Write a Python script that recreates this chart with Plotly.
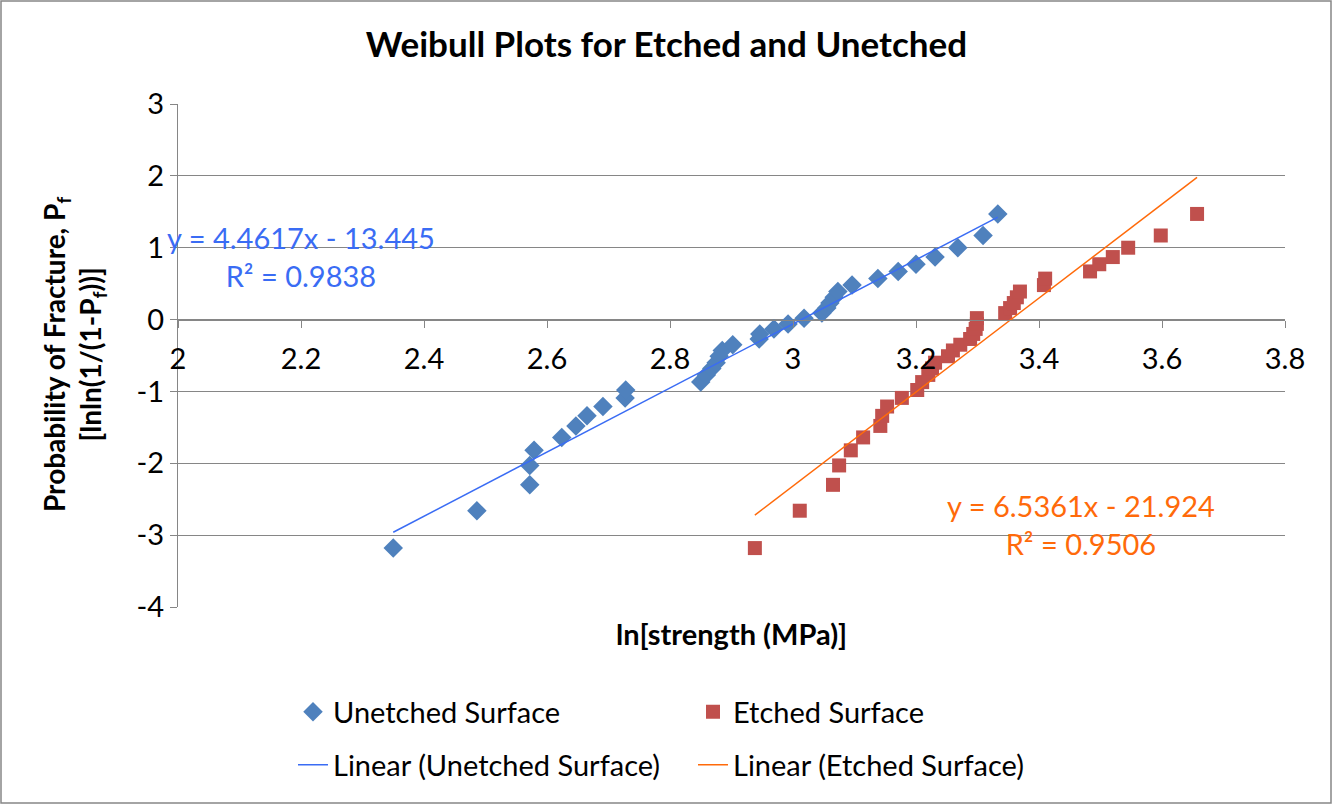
import numpy as np
import plotly.graph_objects as go

# ---- data ----
y_vals = [-3.18, -2.66, -2.30, -2.03, -1.82, -1.64, -1.48, -1.34, -1.21, -1.09,
          -0.98, -0.87, -0.77, -0.68, -0.60, -0.51, -0.43, -0.35, -0.27, -0.20,
          -0.13, -0.06, 0.02, 0.09, 0.16, 0.23, 0.31, 0.39, 0.48, 0.57,
          0.67, 0.77, 0.87, 1.00, 1.17, 1.47]

x_unetched = [2.350, 2.486, 2.572, 2.572, 2.579, 2.624, 2.647, 2.665, 2.691, 2.727,
              2.728, 2.850, 2.859, 2.868, 2.875, 2.880, 2.885, 2.902, 2.945, 2.946,
              2.969, 2.992, 3.018, 3.047, 3.055, 3.060, 3.067, 3.073, 3.096, 3.138,
              3.171, 3.200, 3.231, 3.268, 3.309, 3.333]

x_etched = [2.938, 3.011, 3.065, 3.075, 3.094, 3.114, 3.142, 3.145, 3.153, 3.177,
            3.202, 3.210, 3.220, 3.226, 3.231, 3.252, 3.260, 3.272, 3.288, 3.293,
            3.297, 3.299, 3.299, 3.345, 3.353, 3.359, 3.364, 3.369, 3.408, 3.410,
            3.483, 3.498, 3.520, 3.545, 3.598, 3.657]

fit_unetched = [4.4617, -13.445]
fit_etched = [6.5361, -21.924]
r2_unetched = 0.9838
r2_etched = 0.9506

x_ticks = [2, 2.2, 2.4, 2.6, 2.8, 3, 3.2, 3.4, 3.6, 3.8]
x_ticklabels = ["2", "2.2", "2.4", "2.6", "2.8", "3", "3.2", "3.4", "3.6", "3.8"]
y_ticks = [-4, -3, -2, -1, 0, 1, 2, 3]
y_ticklabels = ["-4", "-3", "-2", "-1", "0", "1", "2", "3"]

FONT = "Lato"
FS = 29
BLUE_M = "#4F81BD"
RED_M = "#C0504D"
BLUE_L = "#3A6CF4"
ORANGE_L = "#FF6A0A"

# figure geometry (pixels)
W, H = 1333, 805
L, R, T, B = 178, 48, 104, 198
pw, ph = W - L - R, H - T - B


def px_x(p):
    return (p - L) / pw


def px_y(p):
    return (H - B - p) / ph


fig = go.Figure()

fig.add_trace(go.Scatter(
    x=x_unetched, y=y_vals, mode="markers", name="Unetched Surface",
    marker=dict(symbol="diamond", size=15, color=BLUE_M), legend="legend"))
fig.add_trace(go.Scatter(
    x=x_etched, y=y_vals, mode="markers", name="Etched Surface",
    marker=dict(symbol="square", size=14, color=RED_M), legend="legend"))

xu = np.array([min(x_unetched), max(x_unetched)])
xe = np.array([min(x_etched), max(x_etched)])
fig.add_trace(go.Scatter(
    x=xu, y=fit_unetched[0] * xu + fit_unetched[1], mode="lines",
    name="Linear (Unetched Surface)", line=dict(color=BLUE_L, width=1.5),
    legend="legend2"))
fig.add_trace(go.Scatter(
    x=xe, y=fit_etched[0] * xe + fit_etched[1], mode="lines",
    name="Linear (Etched Surface)", line=dict(color=ORANGE_L, width=1.5),
    legend="legend2"))


def eq_text(fit, r2):
    sign = "-" if fit[1] < 0 else "+"
    return f"y = {fit[0]:.4f}x {sign} {abs(fit[1]):.3f}<br>R² = {r2:.4f}"


annotations = [
    dict(text=eq_text(fit_unetched, r2_unetched), x=px_x(301), y=px_y(256),
         xref="paper", yref="paper", showarrow=False, align="center",
         xanchor="center", yanchor="middle",
         font=dict(family=FONT, size=FS, color=BLUE_L)),
    dict(text=eq_text(fit_etched, r2_etched), x=px_x(1081), y=px_y(524),
         xref="paper", yref="paper", showarrow=False, align="center",
         xanchor="center", yanchor="middle",
         font=dict(family=FONT, size=FS, color=ORANGE_L)),
    dict(text="ln[strength (MPa)]", x=px_x(731), y=px_y(633),
         xref="paper", yref="paper", showarrow=False,
         xanchor="center", yanchor="middle",
         font=dict(family=FONT, size=FS, color="black", weight="bold")),
    dict(text="Probability of Fracture, P<sub>f</sub><br>[lnln(1/(1-P<sub>f</sub>))]",
         x=px_x(74), y=px_y(355), xref="paper", yref="paper", showarrow=False,
         textangle=-90, align="center", xanchor="center", yanchor="middle",
         font=dict(family=FONT, size=FS - 1, color="black", weight="bold")),
]

fig.update_layout(
    width=W, height=H,
    margin=dict(l=L, r=R, t=T, b=B),
    paper_bgcolor="white", plot_bgcolor="white",
    font=dict(family=FONT, size=FS, color="black"),
    title=dict(text="Weibull Plots for Etched and Unetched", x=0.5, xref="container",
               y=1 - 45 / H, yref="container", xanchor="center", yanchor="middle",
               font=dict(family=FONT, size=35, color="black", weight="bold")),
    xaxis=dict(range=[2, 3.8], tickvals=x_ticks, ticktext=x_ticklabels,
               showgrid=False, zeroline=False, showline=True, linecolor="#868686",
               linewidth=1, ticks="outside", ticklen=7, tickcolor="#868686",
               anchor="free", position=4 / 7, tickfont=dict(size=FS),
               ticklabelstandoff=7),
    yaxis=dict(range=[-4, 3], tickvals=y_ticks, ticktext=y_ticklabels,
               showgrid=True, gridcolor="#868686", gridwidth=1, zeroline=False,
               showline=True, linecolor="#868686", linewidth=1, ticks="outside",
               ticklen=7, tickcolor="#868686", tickfont=dict(size=FS)),
    legend=dict(orientation="h", x=px_x(293), y=px_y(712), xanchor="left",
                yanchor="middle", entrywidthmode="pixels", entrywidth=355,
                font=dict(family=FONT, size=FS), bgcolor="rgba(0,0,0,0)"),
    legend2=dict(orientation="h", x=px_x(293), y=px_y(765), xanchor="left",
                 yanchor="middle", entrywidthmode="pixels", entrywidth=355,
                 font=dict(family=FONT, size=FS), bgcolor="rgba(0,0,0,0)"),
    annotations=annotations,
    shapes=[dict(type="rect", xref="paper", yref="paper",
                 x0=px_x(1), x1=px_x(W - 2), y0=px_y(H - 2), y1=px_y(1),
                 line=dict(color="#868686", width=1.5), layer="below")],
    showlegend=True,
)

fig.write_html("out.html")
